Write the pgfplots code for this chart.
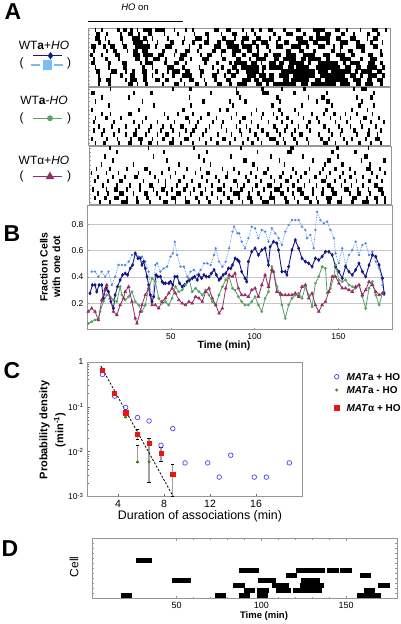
\documentclass[border=0pt]{standalone}
\usepackage{fontspec}
\setmainfont{Liberation Sans}
\usepackage{pgfplots}
\pgfplotsset{compat=1.18}
\usepackage{pgfplotstable}
\definecolor{dblue}{RGB}{20,25,130}
\definecolor{lblue}{RGB}{80,135,225}
\definecolor{lbluesq}{RGB}{120,190,245}
\definecolor{grn}{RGB}{90,160,100}
\definecolor{purp}{RGB}{150,45,105}
\definecolor{cblue}{RGB}{70,70,235}
\definecolor{cgreen}{RGB}{70,140,40}
\definecolor{cred}{RGB}{235,20,20}
\definecolor{frame}{RGB}{150,150,150}
\pgfplotsset{
 raster/.style={anchor=south west, scale only axis, width=302pt, height=58pt, xmin=0, xmax=180, ymin=0.5, ymax=14.5, xtick=\empty, ytick={1,...,14}, yticklabels={}, ytick pos=left, major tick length=2pt, axis line style={frame}, tick style={frame}},
 rbar/.style={draw=none, mark=none, error bars/.cd, x dir=plus, x explicit, error mark=none, error bar style={draw=black, line width=#1}},
 ebar/.style={gray!75, line width=1.2pt, mark=-, mark size=1.6pt, mark options={black, line width=0.7pt}}
}
\pgfplotstableread[row sep=\\]{
s r w\\
4 14 1\\8 14 1\\17 14 2\\21 14 2\\25 14 2\\29 14 1\\33 14 5\\40 14 6\\51 14 1\\58 14 1\\62 14 1\\75 14 3\\82 14 3\\92 14 1\\97 14 2\\102 14 2\\107 14 3\\116 14 2\\124 14 3\\134 14 7\\147 14 3\\154 14 1\\162 14 1\\169 14 4\\177 14 1\\
5 13 2\\11 13 1\\19 13 1\\24 13 3\\30 13 1\\36 13 2\\45 13 1\\53 13 1\\63 13 1\\70 13 2\\79 13 1\\86 13 3\\94 13 1\\99 13 1\\110 13 2\\118 13 4\\128 13 2\\136 13 2\\141 13 4\\151 13 2\\158 13 1\\166 13 2\\172 13 2\\
4 12 3\\10 12 1\\19 12 2\\26 12 5\\33 12 2\\38 12 1\\47 12 1\\57 12 1\\64 12 4\\71 12 1\\80 12 2\\87 12 1\\92 12 4\\100 12 3\\108 12 1\\113 12 2\\124 12 4\\132 12 2\\136 12 8\\148 12 3\\156 12 4\\166 12 1\\170 12 3\\
6 11 2\\12 11 1\\20 11 1\\27 11 6\\35 11 1\\41 11 1\\49 11 2\\56 11 1\\62 11 2\\69 11 3\\77 11 2\\82 11 5\\91 11 2\\98 11 2\\103 11 4\\112 11 1\\117 11 3\\125 11 6\\134 11 3\\142 11 2\\150 11 5\\160 11 2\\168 11 2\\175 11 1\\
2 10 3\\9 10 2\\13 10 3\\21 10 2\\28 10 9\\40 10 1\\46 10 4\\60 10 1\\66 10 2\\75 10 4\\83 10 7\\92 10 6\\100 10 2\\106 10 2\\112 10 4\\121 10 6\\130 10 2\\137 10 4\\146 10 1\\150 10 2\\160 10 5\\170 10 3\\
3 9 1\\11 9 1\\15 9 2\\23 9 1\\27 9 3\\32 9 4\\44 9 2\\52 9 1\\58 9 3\\65 9 1\\74 9 2\\79 9 3\\86 9 5\\95 9 3\\101 9 1\\108 9 1\\118 9 3\\126 9 3\\134 9 2\\145 9 2\\150 9 1\\155 9 3\\163 9 2\\174 9 1\\
1 8 2\\8 8 1\\16 8 3\\27 8 4\\33 8 6\\42 8 3\\51 8 1\\55 8 4\\67 8 1\\71 8 3\\79 8 1\\86 8 2\\92 8 2\\98 8 4\\105 8 2\\110 8 5\\118 8 6\\128 8 7\\140 8 4\\148 8 5\\157 8 2\\167 8 3\\174 8 2\\
3 7 1\\10 7 2\\18 7 1\\28 7 3\\34 7 2\\39 7 4\\46 7 1\\54 7 3\\61 7 1\\68 7 4\\80 7 2\\88 7 3\\96 7 1\\100 7 6\\111 7 3\\116 7 8\\127 7 3\\131 7 8\\142 7 2\\150 7 7\\162 7 2\\168 7 4\\
2 6 2\\12 6 2\\20 6 3\\31 6 1\\34 6 5\\45 6 2\\51 6 3\\58 6 1\\69 6 2\\76 6 2\\84 6 2\\87 6 8\\97 6 4\\103 6 1\\108 6 4\\114 6 3\\120 6 9\\131 6 2\\137 6 12\\152 6 2\\156 6 6\\167 6 4\\174 6 2\\
4 5 1\\12 5 1\\21 5 2\\32 5 2\\38 5 1\\47 5 4\\56 5 2\\66 5 1\\74 5 1\\79 5 2\\86 5 3\\91 5 11\\104 5 2\\108 5 8\\119 5 4\\124 5 8\\136 5 14\\153 5 4\\160 5 3\\166 5 6\\175 5 2\\
5 4 2\\14 4 3\\22 4 1\\26 4 2\\32 4 3\\40 4 2\\47 4 1\\50 4 5\\58 4 3\\67 4 2\\77 4 1\\83 4 2\\88 4 2\\94 4 8\\104 4 1\\115 4 20\\137 4 6\\145 4 12\\159 4 2\\163 4 6\\172 4 3\\
6 3 1\\13 3 1\\19 3 2\\25 3 3\\33 3 2\\38 3 1\\44 3 1\\50 3 2\\56 3 6\\67 3 1\\74 3 3\\81 3 1\\85 3 3\\95 3 5\\102 3 4\\108 3 3\\114 3 6\\122 3 13\\138 3 15\\156 3 4\\162 3 2\\167 3 5\\175 3 2\\
6 2 2\\11 2 3\\22 2 1\\25 2 4\\33 2 2\\40 2 3\\46 2 2\\55 2 1\\60 2 3\\69 2 1\\75 2 2\\82 2 3\\92 2 5\\99 2 3\\104 2 7\\116 2 4\\121 2 11\\135 2 4\\141 2 14\\158 2 5\\166 2 3\\172 2 4\\
6 1 1\\12 1 2\\24 1 3\\29 1 1\\34 1 2\\44 1 1\\51 1 3\\57 1 1\\64 1 2\\70 1 1\\77 1 3\\84 1 2\\89 1 6\\100 1 4\\106 1 2\\110 1 14\\127 1 4\\133 1 15\\150 1 6\\160 1 3\\165 1 5\\174 1 2\\
}\rA
\pgfplotstableread[row sep=\\]{
s r w\\
13 14 1\\50 14 1\\60 14 2\\88 14 1\\103 14 2\\115 14 1\\128 14 2\\158 14 1\\163 14 3\\
2 13 2\\27 13 1\\37 13 2\\73 13 1\\88 13 2\\104 13 4\\122 13 2\\142 13 1\\170 13 1\\
8 12 1\\24 12 1\\60 12 1\\90 12 1\\112 12 2\\131 12 1\\139 12 2\\160 12 1\\168 12 2\\
4 11 1\\32 11 1\\68 11 2\\84 11 1\\93 11 2\\114 11 1\\136 11 1\\142 11 2\\163 11 1\\
12 10 1\\39 10 1\\61 10 1\\86 10 1\\109 10 2\\127 10 1\\145 10 1\\161 10 2\\170 10 1\\
2 9 1\\30 9 1\\56 9 2\\78 9 1\\82 9 2\\100 9 1\\113 9 2\\123 9 1\\141 9 2\\157 9 1\\166 9 1\\
8 8 1\\13 8 1\\24 8 2\\45 8 1\\53 8 1\\62 8 1\\71 8 2\\88 8 1\\97 8 1\\104 8 1\\110 8 1\\115 8 1\\125 8 1\\133 8 1\\140 8 1\\146 8 2\\153 8 1\\160 8 1\\169 8 1\\
4 7 1\\10 7 2\\19 7 1\\34 7 1\\47 7 1\\58 7 2\\67 7 1\\76 7 1\\85 7 1\\92 7 2\\103 7 1\\112 7 1\\118 7 2\\128 7 1\\136 7 1\\144 7 1\\150 7 1\\156 7 1\\164 7 2\\173 7 1\\
3 6 1\\15 6 1\\27 6 1\\32 6 1\\41 6 1\\51 6 1\\60 6 1\\65 6 1\\74 6 1\\80 6 1\\90 6 1\\97 6 1\\107 6 1\\115 6 1\\121 6 1\\131 6 2\\137 6 1\\147 6 1\\154 6 1\\162 6 1\\168 6 1\\176 6 1\\
6 5 1\\14 5 1\\22 5 1\\30 5 1\\37 5 1\\44 5 1\\49 5 1\\55 5 2\\64 5 1\\72 5 1\\79 5 1\\88 5 1\\94 5 1\\101 5 1\\110 5 2\\118 5 1\\125 5 1\\130 5 1\\140 5 2\\149 5 1\\156 5 1\\163 5 1\\171 5 1\\
3 4 1\\9 4 1\\18 4 1\\28 4 1\\36 4 1\\43 4 1\\50 4 1\\58 4 1\\62 4 2\\70 4 1\\82 4 1\\90 4 1\\96 4 1\\103 4 2\\112 4 1\\117 4 1\\123 4 1\\132 4 1\\143 4 1\\151 4 1\\158 4 2\\167 4 1\\174 4 1\\
8 3 1\\15 3 1\\22 3 1\\27 3 2\\34 3 1\\41 3 1\\46 3 2\\54 3 1\\61 3 1\\68 3 1\\77 3 1\\85 3 1\\91 3 1\\99 3 2\\106 3 2\\114 3 1\\121 3 1\\126 3 2\\137 3 1\\145 3 1\\150 3 1\\160 3 1\\166 3 2\\172 3 1\\
2 2 1\\11 2 1\\17 2 1\\25 2 1\\30 2 3\\38 2 1\\44 2 2\\50 2 1\\57 2 3\\66 2 1\\73 2 1\\80 2 2\\87 2 1\\95 2 1\\101 2 1\\108 2 4\\116 2 1\\122 2 2\\130 2 1\\138 2 2\\143 2 1\\152 2 1\\157 2 1\\165 2 1\\171 2 3\\
4 1 1\\9 1 2\\18 1 1\\24 1 2\\31 1 1\\36 1 2\\41 1 1\\48 1 3\\55 1 1\\62 1 1\\70 1 1\\76 1 2\\84 1 1\\92 1 1\\97 1 2\\103 1 1\\112 1 2\\117 1 1\\124 1 1\\131 1 1\\140 1 3\\147 1 1\\154 1 1\\161 1 2\\168 1 1\\174 1 1\\
}\rB
\pgfplotstableread[row sep=\\]{
s r w\\
12 14 1\\35 14 1\\62 14 1\\90 14 1\\120 14 2\\147 14 2\\166 14 1\\
16 13 1\\44 13 1\\70 13 1\\100 13 1\\118 13 3\\144 13 2\\158 13 2\\
9 12 1\\38 12 1\\65 12 1\\84 12 1\\108 12 1\\127 12 1\\148 12 1\\164 12 2\\
14 11 1\\46 11 1\\68 11 1\\92 11 2\\113 11 1\\133 11 1\\142 11 2\\162 11 1\\175 11 2\\
7 10 1\\26 10 1\\53 10 1\\72 10 1\\97 10 2\\116 10 1\\140 10 1\\150 10 2\\167 10 1\\
4 9 1\\12 9 1\\22 9 1\\33 9 2\\47 9 1\\58 9 1\\66 9 1\\79 9 1\\86 9 1\\100 9 1\\106 9 1\\121 9 1\\131 9 1\\139 9 1\\146 9 2\\155 9 1\\165 9 3\\173 9 1\\
1 8 1\\10 8 1\\17 8 1\\29 8 1\\36 8 1\\43 8 1\\51 8 1\\63 8 1\\70 8 2\\82 8 1\\89 8 1\\96 8 1\\104 8 2\\115 8 1\\123 8 1\\128 8 2\\137 8 1\\143 8 1\\151 8 1\\158 8 1\\168 8 1\\176 8 1\\
5 7 1\\14 7 1\\21 7 1\\27 7 2\\39 7 1\\48 7 1\\56 7 1\\67 7 1\\75 7 1\\81 7 2\\93 7 1\\99 7 1\\108 7 1\\113 7 2\\120 7 1\\126 7 1\\134 7 2\\141 7 1\\149 7 1\\155 7 2\\163 7 1\\171 7 1\\
3 6 1\\11 6 1\\18 6 2\\32 6 1\\41 6 1\\45 6 1\\53 6 2\\61 6 1\\70 6 1\\77 6 1\\86 6 2\\94 6 2\\102 6 1\\110 6 1\\117 6 2\\124 6 1\\131 6 1\\138 6 3\\146 6 1\\152 6 1\\159 6 1\\166 6 2\\174 6 1\\
8 5 1\\16 5 1\\24 5 1\\30 5 1\\36 5 2\\45 5 1\\52 5 1\\58 5 1\\65 5 2\\73 5 1\\80 5 1\\88 5 1\\92 5 1\\99 5 2\\106 5 3\\114 5 1\\121 5 2\\128 5 1\\135 5 1\\142 5 2\\150 5 1\\156 5 1\\163 5 1\\170 5 2\\
2 4 1\\10 4 1\\15 4 2\\22 4 1\\30 4 1\\38 4 1\\43 4 2\\49 4 1\\56 4 2\\62 4 1\\69 4 1\\76 4 3\\84 4 1\\90 4 2\\97 4 1\\104 4 1\\110 4 4\\118 4 1\\124 4 3\\133 4 1\\139 4 1\\144 4 2\\152 4 3\\160 4 1\\166 4 1\\172 4 3\\
5 3 1\\11 3 1\\18 3 3\\26 3 1\\33 3 2\\40 3 1\\46 3 1\\52 3 3\\60 3 1\\66 3 2\\73 3 1\\80 3 1\\86 3 4\\95 3 1\\100 3 2\\108 3 1\\114 3 2\\121 3 1\\126 3 2\\133 3 1\\138 3 2\\145 3 3\\155 3 1\\160 3 2\\167 3 1\\174 3 2\\
3 2 1\\9 2 2\\15 2 3\\22 2 1\\28 2 1\\34 2 2\\42 2 1\\49 2 3\\57 2 1\\63 2 2\\70 2 1\\76 2 1\\82 2 2\\89 2 1\\94 2 3\\102 2 1\\107 2 4\\116 2 2\\122 2 1\\128 2 3\\135 2 1\\141 2 4\\150 2 1\\157 2 3\\165 2 1\\170 2 2\\176 2 1\\
6 1 1\\12 1 1\\19 1 4\\28 1 2\\36 1 1\\44 1 3\\51 1 1\\57 1 3\\65 1 1\\71 1 2\\78 1 1\\84 1 2\\91 1 1\\96 1 2\\103 1 4\\110 1 1\\117 1 2\\124 1 1\\131 1 2\\136 1 1\\142 1 2\\148 1 3\\156 1 2\\163 1 4\\171 1 1\\176 1 1\\
}\rC
\pgfplotstableread[row sep=\\]{
s r w\\
17.2 0.5 6.7\\72.5 0.5 6.9\\86.6 0.5 6.5\\97.6 0.5 6.3\\156.4 0.5 14.1\\
89.7 1.5 6.3\\97.2 1.5 7.2\\108.5 1.5 9.2\\118.6 1.5 17\\160.5 1.5 6.5\\
83.3 2.5 6.8\\106.5 2.5 10\\123 2.5 14.2\\168.8 2.5 6.8\\
47.4 3.5 11\\98 3.5 10.5\\123.5 3.5 11\\
114.6 4.5 6.3\\157.9 4.5 6.8\\
86.6 5.5 11.9\\120.5 5.5 16.8\\138.7 5.5 6.9\\146.6 5.5 6.9\\
26 7.5 9.8\\
}\tD
\begin{document}
\begin{tikzpicture}
\useasboundingbox (0,0) rectangle (401pt,624pt);
% Panel A rasters
\begin{axis}[raster, at={(88pt,538pt)}]
\addplot[rbar=4.3pt] table[x=s,y=r,x error=w]{\rA};
\end{axis}
\begin{axis}[raster, at={(88pt,479pt)}]
\addplot[rbar=4.3pt] table[x=s,y=r,x error=w]{\rB};
\end{axis}
\begin{axis}[raster, at={(89pt,420pt)}]
\addplot[rbar=4.3pt] table[x=s,y=r,x error=w]{\rC};
\end{axis}
% Panel B
\begin{axis}[anchor=south west, at={(87pt,294.3pt)}, scale only axis, width=305pt, height=124.7pt,
 xmin=0, xmax=182, ymin=0, ymax=0.945, xtick={50,100,150}, ytick={0.2,0.4,0.6,0.8},
 ymajorgrids, grid style={gray!45, line width=0.6pt}, tick pos=left,
 axis line style={frame}, tick style={frame}, major tick length=2pt,
 tick label style={font=\fontsize{8.5}{9}\selectfont}, /pgf/number format/assume math mode=true]
\addplot[lblue, densely dotted, line width=0.7pt, mark=*, mark size=0.8pt, mark options={solid}] coordinates {
(2.8,0.44)(4.8,0.44)(6.8,0.402)(8.8,0.44)(10.8,0.402)(12.8,0.44)(14.8,0.339)(16.8,0.402)(18.8,0.49)(20.8,0.49)(22.8,0.49)(24.8,0.516)(26.8,0.566)(28.8,0.579)(30.8,0.554)(32.8,0.554)(34.8,0.516)(36.8,0.44)(38.8,0.213)(40.8,0.49)(41.8,0.503)(43.8,0.44)(45.8,0.465)(47.8,0.478)(49.8,0.554)(51.2,0.579)(52.4,0.667)(53.8,0.566)(55.8,0.478)(57.8,0.478)(59.8,0.402)(61.8,0.44)(63.8,0.453)(65.8,0.415)(67.8,0.453)(69.8,0.503)(71.8,0.503)(73.8,0.49)(75.8,0.566)(76.8,0.617)(78.8,0.516)(80.8,0.478)(82.8,0.516)(84.8,0.617)(86.8,0.743)(87.8,0.781)(89.8,0.73)(90.8,0.73)(92.3,0.667)(94.3,0.617)(96.3,0.693)(98.3,0.781)(100.3,0.768)(102.3,0.693)(104.3,0.756)(106.3,0.743)(108.3,0.667)(110.3,0.768)(112.3,0.73)(114.3,0.693)(116.3,0.642)(118.3,0.743)(120.3,0.793)(122.3,0.831)(124.3,0.831)(126.3,0.831)(128.3,0.781)(130.3,0.756)(131.3,0.693)(133.3,0.718)(135.3,0.617)(136.3,0.756)(137.3,0.894)(139.3,0.831)(141.3,0.806)(143.3,0.819)(145.3,0.756)(147.3,0.693)(148.3,0.579)(150.3,0.503)(152.3,0.617)(154.3,0.49)(156.3,0.566)(158.3,0.604)(160.3,0.667)(162.3,0.566)(164.3,0.642)(166.3,0.655)(168.3,0.566)(170.3,0.591)(172.3,0.516)(174.3,0.465)(176.3,0.339)(177.3,0.263)};
\addplot[dblue, line width=0.9pt, mark=diamond*, mark size=1.3pt] coordinates {
(1.8,0.276)(3.2,0.339)(4.8,0.339)(5.8,0.288)(7.2,0.339)(8.8,0.339)(9.8,0.238)(11.2,0.314)(12.8,0.288)(14.2,0.213)(15.8,0.162)(16.8,0.263)(18.2,0.326)(19.8,0.377)(21.2,0.415)(22.8,0.427)(24.2,0.415)(25.8,0.465)(27.2,0.49)(28.8,0.579)(30.4,0.541)(31.8,0.541)(32.8,0.49)(33.8,0.516)(34.8,0.465)(35.8,0.402)(36.8,0.339)(37.8,0.263)(38.8,0.213)(39.8,0.25)(41.2,0.415)(42.2,0.402)(43.8,0.402)(44.8,0.364)(45.8,0.352)(46.8,0.352)(48.8,0.352)(49.8,0.364)(51.2,0.339)(52.4,0.402)(53.8,0.402)(55.2,0.352)(56.8,0.326)(58.2,0.339)(59.8,0.364)(61.2,0.377)(62.8,0.39)(64.2,0.402)(65.8,0.377)(66.8,0.415)(68.4,0.39)(69.8,0.415)(71.2,0.402)(72.8,0.402)(74.2,0.427)(75.8,0.453)(77.2,0.415)(78.8,0.377)(79.8,0.39)(81.2,0.415)(82.8,0.427)(84.4,0.465)(85.8,0.465)(86.8,0.49)(88.4,0.541)(89.8,0.53)(90.8,0.516)(92.3,0.44)(94.3,0.39)(95.3,0.364)(96.3,0.516)(98.3,0.591)(100.3,0.617)(102.3,0.566)(104.3,0.604)(106.3,0.617)(108.3,0.49)(109.3,0.629)(111.3,0.667)(113.3,0.655)(114.3,0.604)(116.3,0.44)(118.3,0.44)(119.3,0.415)(120.3,0.478)(122.3,0.604)(124.3,0.68)(126.3,0.617)(128.3,0.541)(130.3,0.516)(132.3,0.503)(134.3,0.478)(136.3,0.541)(138.3,0.528)(140.3,0.554)(142.3,0.591)(144.3,0.591)(146.3,0.566)(148.3,0.478)(150.3,0.44)(152.3,0.39)(154.3,0.478)(156.3,0.44)(158.3,0.415)(160.3,0.453)(162.3,0.503)(164.3,0.44)(166.3,0.402)(168.3,0.49)(170.3,0.566)(172.3,0.554)(174.3,0.49)(176.3,0.39)(177.3,0.276)};
\addplot[grn, line width=0.8pt, mark=*, mark size=1pt] coordinates {
(0.8,0.048)(2.8,0.061)(4.8,0.074)(6.8,0.086)(7.8,0.137)(9.8,0.213)(11.8,0.263)(13.8,0.25)(15.8,0.225)(17.8,0.213)(19.8,0.326)(20.8,0.263)(22.8,0.225)(24.8,0.25)(26.8,0.288)(28.8,0.213)(30.8,0.187)(32.8,0.137)(34.8,0.187)(36.8,0.314)(38.8,0.39)(40.8,0.364)(42.8,0.238)(44.8,0.2)(46.8,0.213)(48.8,0.187)(50.8,0.238)(52.8,0.326)(54.8,0.288)(56.8,0.301)(58.8,0.339)(60.8,0.39)(62.8,0.288)(64.8,0.314)(66.8,0.288)(68.8,0.263)(70.8,0.301)(72.8,0.263)(74.8,0.213)(76.8,0.187)(78.8,0.263)(80.8,0.326)(82.8,0.377)(84.8,0.402)(86.8,0.314)(88.3,0.3)(90.3,0.25)(92.3,0.213)(94.3,0.187)(96.3,0.187)(98.3,0.213)(100.3,0.25)(102.3,0.187)(104.3,0.137)(106.3,0.238)(108.3,0.288)(110.3,0.478)(111.3,0.44)(113.3,0.326)(115.3,0.263)(116.3,0.187)(118.3,0.086)(120.3,0.187)(122.3,0.238)(124.3,0.263)(126.3,0.276)(128.3,0.238)(130.3,0.326)(132.3,0.263)(134.3,0.175)(136.3,0.352)(138.3,0.402)(140.3,0.478)(142.3,0.465)(143.3,0.276)(145.3,0.314)(147.3,0.402)(148.3,0.49)(150.3,0.377)(152.3,0.364)(154.3,0.377)(156.3,0.339)(158.3,0.326)(160.3,0.314)(162.3,0.339)(164.3,0.25)(166.3,0.162)(168.3,0.314)(170.3,0.364)(172.3,0.263)(174.3,0.187)(176.3,0.276)};
\addplot[purp, line width=0.8pt, mark=triangle*, mark size=1.4pt] coordinates {
(0.8,0.137)(2.8,0.162)(4.8,0.137)(6.8,0.074)(8.8,0.225)(10.8,0.301)(11.8,0.339)(13.8,0.238)(15.8,0.137)(17.8,0.112)(19.8,0.187)(21.8,0.238)(22.8,0.288)(24.8,0.326)(26.8,0.213)(28.8,0.086)(29.8,0.048)(31.8,0.137)(32.8,0.187)(34.8,0.263)(36.8,0.314)(38.8,0.187)(40.8,0.187)(42.8,0.162)(44.8,0.213)(46.8,0.238)(48.8,0.276)(50.8,0.314)(52.8,0.276)(54.8,0.225)(56.8,0.2)(58.8,0.187)(60.8,0.213)(62.8,0.2)(64.8,0.25)(66.8,0.238)(68.8,0.213)(70.8,0.288)(72.8,0.314)(74.8,0.238)(76.8,0.187)(78.8,0.124)(80.8,0.162)(82.8,0.314)(84.8,0.415)(86.8,0.402)(88.3,0.427)(90.3,0.314)(92.3,0.263)(94.3,0.263)(96.3,0.25)(98.3,0.301)(100.3,0.314)(102.3,0.25)(104.3,0.339)(106.3,0.415)(108.3,0.326)(110.3,0.453)(111.3,0.44)(113.3,0.288)(115.3,0.276)(116.3,0.263)(118.3,0.263)(120.3,0.263)(122.3,0.263)(124.3,0.276)(126.3,0.25)(128.3,0.326)(130.3,0.339)(132.3,0.238)(134.3,0.276)(136.3,0.187)(138.3,0.137)(140.3,0.187)(142.3,0.213)(144.3,0.288)(146.3,0.402)(148.3,0.402)(150.3,0.352)(152.3,0.314)(154.3,0.314)(156.3,0.301)(158.3,0.288)(160.3,0.326)(162.3,0.339)(164.3,0.263)(166.3,0.301)(168.3,0.364)(170.3,0.339)(172.3,0.288)(174.3,0.263)(176.3,0.276)};
\end{axis}
% Panel C
\begin{axis}[anchor=south west, at={(87pt,127.5pt)}, scale only axis, width=215pt, height=134.8pt,
 ymode=log, xmin=1.3, xmax=20, ymin=0.001, ymax=1,
 xtick={4,8,12,16,20}, xticklabels={4,8,12,16,{}},
 ytick={0.001,0.01,0.1,1}, yticklabels={10\textsuperscript{-3},10\textsuperscript{-2},10\textsuperscript{-1},1},
 axis line style={frame}, tick style={frame!70!black}, tick pos=left, major tick length=3pt, minor tick length=2pt,
 x tick label style={font=\fontsize{10.5}{11}\selectfont}, y tick label style={font=\fontsize{8.5}{9}\selectfont}]
\addplot[ebar] coordinates {(4.66,0.058)(4.66,0.085)};
\addplot[ebar] coordinates {(5.7,0.019)(5.7,0.031)};
\addplot[ebar] coordinates {(5.7,0.0059)(5.7,0.0135)};
\addplot[ebar] coordinates {(6.7,0.0021)(6.7,0.0195)};
\addplot[ebar] coordinates {(7.74,0.006)(7.74,0.0125)};
\addplot[ebar] coordinates {(8.76,0.001)(8.76,0.0052)};
\addplot[black, line width=0.8pt, dash pattern=on 2.2pt off 1.6pt] coordinates {(2.5,0.8)(8.8,0.001)};
\addplot[cblue, only marks, mark=o, mark size=2.3pt, line width=0.7pt] coordinates {
(2.65,0.52)(3.7,0.171)(4.66,0.096)(5.7,0.057)(6.7,0.048)(7.74,0.0138)(8.76,0.0325)(9.83,0.0056)(11.8,0.0056)(12.8,0.0027)(13.8,0.0083)(15.85,0.0027)(16.9,0.0027)(18.9,0.0056)};
\addplot[cgreen, only marks, mark=*, mark size=1.4pt] coordinates {
(2.65,0.68)(3.7,0.21)(4.66,0.059)(5.7,0.0059)(6.7,0.0059)};
\addplot[cred, only marks, mark=square*, mark size=2.1pt] coordinates {
(2.65,0.65)(3.7,0.197)(4.66,0.073)(5.7,0.0243)(6.7,0.0153)(7.74,0.0093)(8.76,0.0031)};
\end{axis}
% Panel D
\begin{axis}[anchor=south west, at={(91.7pt,25.7pt)}, scale only axis, width=305.3pt, height=60pt,
 xmin=0, xmax=180, ymin=0, ymax=12, xtick={50,100,150}, minor x tick num=4,
 ytick={0,...,12}, yticklabels={}, axis line style={frame}, tick style={frame},
 major tick length=2.5pt, minor tick length=1.5pt,
 tick label style={font=\fontsize{9}{10}\selectfont}, /pgf/number format/assume math mode=true]
\addplot[rbar=4.7pt] table[x=s,y=r,x error=w]{\tD};
\end{axis}
% Overlay: legend glyphs and labels
\begin{axis}[anchor=south west, at={(0pt,0pt)}, scale only axis, width=401pt, height=624pt,
 xmin=0, xmax=401, ymin=0, ymax=624, hide axis, clip=false]
\addplot[black, line width=1.6pt] coordinates {(88.3,602.3)(183.3,602.3)};
\addplot[dblue, line width=1.3pt, mark=diamond*, mark size=2.6pt, mark indices={2}] coordinates {(33,568.3)(50.5,568.3)(62,568.3)};
\addplot[lbluesq, line width=1.3pt] coordinates {(31,559)(40,559)};
\addplot[lbluesq, line width=1.3pt] coordinates {(54,559)(63,559)};
\addplot[lbluesq, only marks, mark=square*, mark size=4.3pt] coordinates {(47,559)};
\addplot[grn, line width=1.3pt, mark=*, mark size=2.2pt, mark indices={2}] coordinates {(33,505.7)(50,505.7)(62,505.7)};
\addplot[purp, line width=1.3pt, mark=triangle*, mark size=3.8pt, mark indices={2}] coordinates {(33,447.3)(50,447.3)(62,447.3)};
\addplot[cblue, only marks, mark=o, mark size=2.3pt, line width=0.7pt] coordinates {(336.7,247.3)};
\addplot[cgreen, only marks, mark=*, mark size=1.4pt] coordinates {(336.7,234)};
\addplot[cred, only marks, mark=square*, mark size=2.1pt] coordinates {(336.7,216.3)};
\node[font=\bfseries\fontsize{23}{23}\selectfont] at (13,612) {A};
\node[font=\bfseries\fontsize{23}{23}\selectfont] at (12,390) {B};
\node[font=\bfseries\fontsize{23}{23}\selectfont] at (12,253) {C};
\node[font=\bfseries\fontsize{23}{23}\selectfont] at (10,75) {D};
\node[font=\fontsize{9.5}{10}\selectfont] at (135,616.5) {\textit{HO} on};
\node[font=\fontsize{12}{13}\selectfont] at (44,579) {WT\textbf{a}+\textit{HO}};
\node[font=\fontsize{12}{13}\selectfont] at (44,524) {WT\textbf{a}-\textit{HO}};
\node[font=\fontsize{12}{13}\selectfont] at (44,463.3) {WTα+\textit{HO}};
\node[font=\fontsize{12}{13}\selectfont] at (21.7,561) {(};
\node[font=\fontsize{12}{13}\selectfont] at (69,561) {)};
\node[font=\fontsize{12}{13}\selectfont] at (21.7,505.7) {(};
\node[font=\fontsize{12}{13}\selectfont] at (69,505.7) {)};
\node[font=\fontsize{12}{13}\selectfont] at (21.7,447.3) {(};
\node[font=\fontsize{12}{13}\selectfont] at (69,447.3) {)};
\node[rotate=90, align=center, font=\bfseries\fontsize{10.5}{12.5}\selectfont] at (50,357) {Fraction Cells\\with one dot};
\node[font=\bfseries\fontsize{10.5}{11}\selectfont] at (224,278.5) {Time (min)};
\node[rotate=90, align=center, font=\bfseries\fontsize{11}{16}\selectfont] at (52.5,194) {Probability density\\(min\textsuperscript{-1})};
\node[font=\fontsize{12.4}{13}\selectfont] at (200,107.3) {Duration of associations (min)};
\node[anchor=west, font=\bfseries\fontsize{10}{11}\selectfont] at (343,247.3) {\textit{MAT}a + HO};
\node[anchor=west, font=\bfseries\fontsize{10}{11}\selectfont] at (343,234) {\textit{MAT}a - HO};
\node[anchor=west, font=\bfseries\fontsize{10}{11}\selectfont] at (343,216.3) {\textit{MAT}α + HO};
\node[rotate=90, font=\fontsize{12}{13}\selectfont] at (74,57) {Cell};
\node[font=\bfseries\fontsize{9.5}{10}\selectfont] at (264,7.5) {Time (min)};
\end{axis}
\end{tikzpicture}
\end{document}
